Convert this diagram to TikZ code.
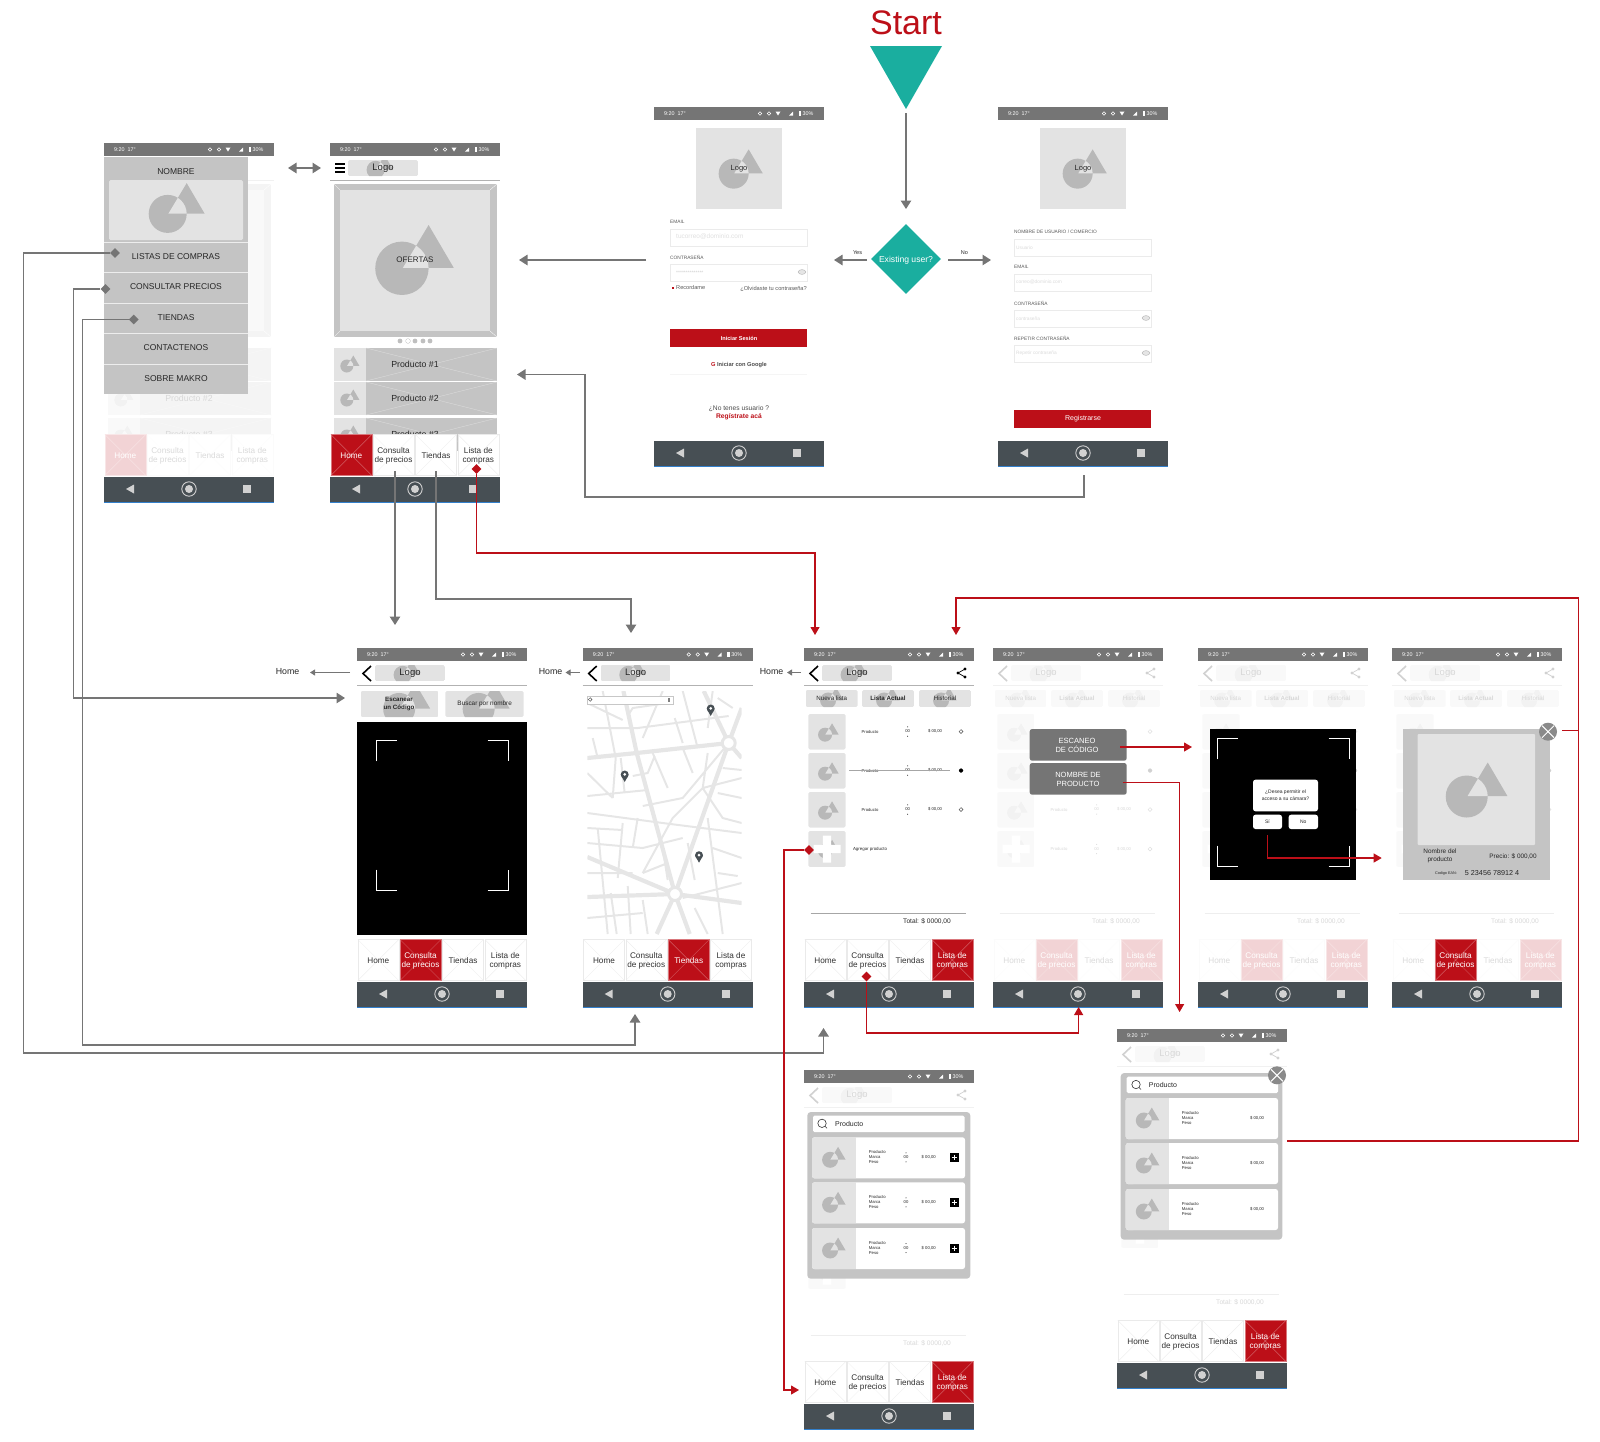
\documentclass[tikz,border=0pt]{standalone}
\usepackage{fontspec}
\setmainfont{Liberation Sans}
\usetikzlibrary{arrows.meta, shapes.geometric}

\definecolor{brandred}{HTML}{BC0F18}
\definecolor{startteal}{HTML}{1AAE9F}
\definecolor{barGray}{HTML}{757575}
\definecolor{navGray}{HTML}{474F54}
\definecolor{panelGray}{HTML}{C4C4C4}
\definecolor{imgGray}{HTML}{E3E3E3}
\definecolor{markGray}{HTML}{B8B8B8}
\definecolor{roadGray}{HTML}{E6E6E6}
\definecolor{tabEdgeOn}{HTML}{D9777C}
\definecolor{tabEdgeOff}{HTML}{EAEAEA}
\definecolor{tabInkOff}{HTML}{333333}

\newcommand{\fs}[2]{\fontsize{#1}{#2}\selectfont}

\tikzset{
	txt/.style={inner sep=0pt, align=center, text=black!85},
	link/.style={draw=barGray, line width=1.3pt, -{Triangle[length=8.5pt,width=10.5pt]}},
	redlink/.style={draw=brandred, line width=1.1pt, -{Triangle[length=8pt,width=9pt]}},
	redplain/.style={draw=brandred, line width=1.1pt},
	hub/.style={diamond, fill=barGray, minimum size=10pt, inner sep=0pt},
	redhub/.style={hub, fill=brandred},
	tabbox/.style={line width=.3pt},
	field/.style={draw=black!8, fill=white, line width=.5pt},
	scanline/.style={draw=white, line width=.8pt},
	road/.style={draw=roadGray, line width=2pt},
	bigroad/.style={draw=roadGray, line width=4.2pt},
	decision/.style={diamond, fill=startteal, minimum size=70pt, inner sep=0pt},
}

% placeholder picture: circle and triangle
\newcommand{\placemark}[3]{%
	\begin{scope}[shift={(#1,#2)}, scale=#3]
		\fill[markGray] (-.49,.31) circle (1);
		\fill[markGray] (.51,-1.31) -- (-.45,.29) -- (1.45,.29) -- cycle;
		\begin{scope}
			\clip (-.49,.31) circle (1);
			\fill[imgGray] (.51,-1.31) -- (-.45,.29) -- (1.45,.29) -- cycle;
		\end{scope}
	\end{scope}}

\newcommand{\chip}[7]{%
	\begin{scope}
		\clip[rounded corners=1.5pt] (#1,#2) rectangle (#3,#4);
		\fill[imgGray] (#1,#2) rectangle (#3,#4);
		\placemark{#5}{#6}{#7}
	\end{scope}}

% bottom tabs
\newcommand{\tabcell}[4]{%
	\ifnum#4=1 \def\tabfill{brandred}\def\tabedge{tabEdgeOn}\def\tabink{white}%
	\else \def\tabfill{white}\def\tabedge{tabEdgeOff}\def\tabink{tabInkOff}\fi
	\draw[tabbox, fill=\tabfill, draw=\tabedge] (#2,291.5) rectangle ++(41,41);
	\draw[tabbox, draw=\tabedge] (#2,291.5) -- ++(41,41) ++(-41,0) -- ++(41,-41);
	\node[txt, font=\fs{8.2}{9.2}, text=\tabink] (tab#1) at (#2+20.5,312.7) {#3};}

\newcommand{\tabrow}[2]{%
	\foreach \i/\x/\t in {1/.8/Home, 2/43/{Consulta\\de precios}, 3/85.5/Tiendas, 4/127.8/{Lista de\\compras}}{%
		\ifnum\i=#1 \def\tabon{1}\else\ifnum\i=#2 \def\tabon{1}\else\def\tabon{0}\fi\fi
		\tabcell{\i}{\x}{\t}{\tabon}
	}}

% status bar and navigation bar
\newcommand{\phonebars}{%
	\fill[barGray] (0,0) rectangle (170,13);
	\node[txt, text=white, font=\fs{5.4}{6}, anchor=west] (clock) at (10,6.5) {9:20\ \ 17°};
	\draw[white, line width=.5pt] (106,6.5) circle (1.7) (115,6.5) circle (1.7);
	\fill[white] (121.5,4.5) -- (126.5,4.5) -- (124,8.5) -- cycle;
	\fill[white] (135,8.5) -- (139,8.5) -- (139,4.5) -- cycle;
	\fill[white] (144.5,4) rectangle (147,9);
	\node[txt, text=white, font=\fs{5.4}{6}] (battery) at (154,6.5) {30\%};
	\fill[navGray] (0,334) rectangle (170,359);
	\draw[blue!50!cyan!60!gray, line width=.6pt] (0,358.8) -- (170,358.8);
	\fill[black!18] (22,346) -- (30,341.5) -- (30,350.5) -- cycle;
	\draw[black!18, line width=.9pt] (85,346) circle (7.2);
	\fill[black!18] (85,346) circle (4);
	\fill[black!18] (139,342) rectangle (147,350);}

% header with the logo chip
\newcommand{\phonehead}{%
	\chip{18}{17}{88}{33}{50}{24}{9}
	\node[txt, font=\fs{9.5}{10}] (logo) at (53,25) {Logo};
	\draw[black!30, line width=.6pt] (0,37.3) -- (170,37.3);}

\newcommand{\backmark}{\draw[black, line width=1.6pt] (14,18) -- (6,25.5) -- (14,33);}

\newcommand{\sharemark}{%
	\draw[black, line width=.7pt] (161,21) -- (154,25) -- (161,29);
	\fill[black] (161,21) circle (1.6) (154,25) circle (1.6) (161,29) circle (1.6);}

\newcommand{\closemark}[2]{%
	\fill[barGray!85] (#1,#2) circle (9);
	\draw[white, line width=1pt] (#1-6,#2-6) -- (#1+6,#2+6) (#1-6,#2+6) -- (#1+6,#2-6);}

\newcommand{\scancorners}[5]{%
	\draw[scanline] (#1,#2+#5) -- (#1,#2) -- (#1+#5,#2);
	\draw[scanline] (#3-#5,#2) -- (#3,#2) -- (#3,#2+#5);
	\draw[scanline] (#1,#4-#5) -- (#1,#4) -- (#1+#5,#4);
	\draw[scanline] (#3-#5,#4) -- (#3,#4) -- (#3,#4-#5);}

% home screen contents, labels from product #1 on
\newcommand{\homescreen}[1]{%
	\chip{18}{17}{88}{33}{50}{24}{9}
	\draw[black!30, line width=.6pt] (0,37.3) -- (170,37.3);
	\draw[black, line width=1.1pt] (5,21) -- (15,21) (5,25) -- (15,25) (5,29) -- (15,29);
	\fill[panelGray] (4,41) rectangle (167,194);
	\fill[imgGray] (10,47) rectangle (160,188);
	\draw[white, line width=.3pt] (4,41) -- (10,47) (167,41) -- (160,47) (4,194) -- (10,188) (167,194) -- (160,188);
	\placemark{85}{117}{26.7}
	\ifnum#1=1
		\node[txt, font=\fs{9.5}{10}] (logo) at (53,25) {Logo};
		\node[txt, font=\fs{8}{9}] (ofertas) at (85,117) {OFERTAS};
	\fi
	\foreach \x in {70,85,93,100}{\fill[black!25] (\x,198) circle (2.4);}
	\draw[black!25, line width=.3pt] (78,198) circle (2.4);
	\foreach \y/\n in {205/1,239/2,275/3}{%
		\fill[panelGray] (4,\y) rectangle (167,\y+33);
		\draw[black!12, line width=.3pt] (36,\y) -- (167,\y+33) (36,\y+33) -- (167,\y);
		\fill[imgGray] (4,\y) rectangle (36,\y+33);
		\placemark{20}{\y+16}{6.5}
		\ifnum\n<#1\else
			\node[txt, font=\fs{8.8}{9}] (prod\n) at (85,\y+16) {Producto \#\n};
		\fi
	}}

% shopping list screen, in parts
\newcommand{\listtop}{%
	\phonehead
	\backmark
	\sharemark
	\chip{1.7}{42}{53.7}{59}{28}{50}{8}
	\chip{58}{42}{110}{59}{84}{50}{8}
	\chip{115}{42}{167}{59}{141}{50}{8}
	\node[txt, font=\fs{6.2}{7}] (newlist) at (27.7,50.5) {Nueva lista};
	\node[txt, font=\bfseries\fs{6.2}{7}] (curlist) at (84,50.5) {Lista Actual};
	\node[txt, font=\fs{6.2}{7}] (history) at (141,50.5) {Historial};}

\newcommand{\listtopplain}{%
	\phonehead
	\backmark
	\sharemark}

\newcommand{\listthumbs}{%
	\foreach \y in {66,105,144}{%
		\chip{4.3}{\y}{41.7}{\y+35.5}{24.5}{\y+18.5}{7}
		\draw[black!70, line width=.5pt] (157,\y+17.5) circle (1.9);
	}
	\fill[black] (157,122.5) circle (2);
	\chip{4.3}{183}{41.7}{219}{24.5}{201}{7}
	\fill[white] (18.8,187.5) rectangle (27.2,214.5) (9.5,196.8) rectangle (36.5,205.2);}

\newcommand{\itemrow}[2]{%
	\node[txt, font=\fs{4.2}{5}] (item#2) at (66,#1) {Producto};
	\node[txt, font=\fs{4.2}{5}] (qty#2) at (103.7,#1) {00};
	\fill[black] (103.7,#1-4.7) circle (.5) (103.7,#1+4.7) circle (.5);
	\node[txt, font=\fs{4.2}{5}] (price#2) at (131,#1) {\$ 00,00};}

\newcommand{\listrows}{%
	\itemrow{83.5}{1}
	\itemrow{122.5}{2}
	\itemrow{161.5}{3}
	\draw[black!35, line width=.5pt] (45,122.7) -- (146,122.7);
	\node[txt, font=\fs{4.4}{5}] (additem) at (66,201) {Agregar producto};}

\newcommand{\listtail}{%
	\draw[black!35, line width=.7pt] (6.7,265) -- (161.7,265);
	\node[txt, font=\fs{6.6}{8}] (total) at (123,273) {Total: \$ 0000,00};}

\newcommand{\fadescreen}{\fill[white, opacity=.82] (0,13) rectangle (170,334);}

% search popup card
\newcommand{\cardrow}[4]{%
	\fill[white, rounded corners=2.5pt] (#2,#1) rectangle (#3,#1+41);
	\fill[imgGray, rounded corners=2.5pt] (#2,#1) rectangle (#2+10,#1+41);
	\fill[imgGray] (#2+4,#1) rectangle (#2+43.5,#1+41);
	\placemark{#2+22}{#1+20}{8}
	\node[txt, font=\fs{4.2}{5}, align=left, anchor=west] (card#4) at (64.7,#1+20) {Producto\\Marca\\Peso};}

\begin{document}
\begin{tikzpicture}[x=1pt, y=-1pt]
	\useasboundingbox (0,0) rectangle (1600,1441);

	% Start
	\node[txt, text=brandred, font=\fs{34}{36}] (start) at (906,23) {Start};
	\fill[startteal] (870,46) -- (942,46) -- (906,109) -- cycle;
	\coordinate (startTip) at (906,113);
	\coordinate (decisionTop) at (906,209);
	\node[decision] (existing) at (906,259) {};
	\node[txt, text=white, font=\fs{8.6}{10}] (existingText) at (906,260) {Existing user?};
	\coordinate (yesFrom) at (867,260);
	\coordinate (yesTo) at (834,260);
	\coordinate (noFrom) at (948,260);
	\coordinate (noTo) at (991,260);
	\node[txt, font=\fs{5.5}{6}] (yes) at (857.5,253) {Yes};
	\node[txt, font=\fs{5.5}{6}] (no) at (964.5,253) {No};

	% Login
	\begin{scope}[shift={(654,107)}, name prefix=login-]
		\fill[imgGray] (42,20.5) rectangle (128,102);
		\placemark{87}{62}{15}
		\node[txt, font=\fs{7.5}{8}] (logo) at (85,62) {Logo};
		\node[txt, font=\fs{4.8}{5}, anchor=west, text=black!65] (mailLbl) at (16,114.5) {EMAIL};
		\draw[field] (16,122) rectangle (153,139);
		\node[txt, font=\fs{6.5}{7}, anchor=west, text=black!12] (mailHint) at (22,130) {tucorreo@dominio.com};
		\node[txt, font=\fs{4.8}{5}, anchor=west, text=black!65] (passLbl) at (16,150.5) {CONTRASEÑA};
		\draw[field] (16,157) rectangle (153,174);
		\node[txt, font=\fs{5}{5}, anchor=west, text=black!20] (passHint) at (22,165.5) {**************};
		\draw[black!30, fill=black!10, line width=.4pt] (148,165) ellipse (3.8 and 2.4);
		\fill[brandred] (17.5,179.5) rectangle (20,182);
		\node[txt, font=\fs{5.6}{6}, anchor=west, text=black!65] (remember) at (22,180.5) {Recordame};
		\node[txt, font=\fs{5.7}{6}, anchor=east, text=black!65] (forgot) at (153,181.5) {¿Olvidaste tu contraseña?};
		\fill[brandred] (16,222) rectangle (153,240);
		\node[txt, font=\bfseries\fs{5.6}{6}, text=white] (signin) at (85,231.5) {Iniciar Sesión};
		\fill[black!4] (16,249) rectangle (153,267.5);
		\fill[white] (16,249) rectangle (153,266.5);
		\node[txt, font=\bfseries\fs{5.7}{6}, text=black!70] (google) at (85,258.5) {{\color{brandred}G} Iniciar con Google};
		\node[txt, font=\fs{6.7}{8.2}, text=black!70] (signup) at (85,305.5) {¿No tenes usuario ?\\{\bfseries\color{brandred}Regístrate acá}};
		\phonebars
	\end{scope}

	% Register
	\begin{scope}[shift={(998,107)}, name prefix=register-]
		\fill[imgGray] (42,20.5) rectangle (128,102);
		\placemark{87}{62}{15}
		\node[txt, font=\fs{7.5}{8}] (logo) at (85,62) {Logo};
		\foreach \y/\n/\t/\h in {125/1/{NOMBRE DE USUARIO / COMERCIO}/Usuario, 160/2/EMAIL/correo@dominio.com, 196/3/CONTRASEÑA/contraseña, 231/4/REPETIR CONTRASEÑA/Repetir contraseña}{%
			\node[txt, font=\fs{4.8}{5}, anchor=west, text=black!65] (lbl\n) at (16,\y) {\t};
			\draw[field] (16,\y+7) rectangle (153,\y+24);
			\node[txt, font=\fs{4.8}{5}, anchor=west, text=black!14] (hint\n) at (18,\y+15.5) {\h};
		}
		\foreach \y in {211,246}{\draw[black!30, fill=black!10, line width=.4pt] (148,\y) ellipse (3.8 and 2.4);}
		\fill[brandred] (16,303) rectangle (153,320.5);
		\node[txt, font=\fs{7}{8}, text=white] (register) at (85,312) {Registrarse};
		\phonebars
	\end{scope}

	% Side menu over the home screen
	\begin{scope}[shift={(104,143)}, name prefix=menu-]
		\homescreen{2}
		\tabrow{1}{0}
		\fadescreen
		\fill[panelGray] (0,14) rectangle (144,251);
		\node[txt, font=\fs{8.5}{9}] (name) at (72,29) {NOMBRE};
		\fill[imgGray, rounded corners=1.5pt] (5,37) rectangle (139,97);
		\placemark{73}{65}{19}
		\foreach \y in {99,129,160,190,221}{\draw[white!70!panelGray, line width=.8pt] (0,\y) -- (144,\y);}
		\foreach \y/\n/\t in {114/1/LISTAS DE COMPRAS, 144/2/CONSULTAR PRECIOS, 175/3/TIENDAS, 205/4/CONTACTENOS, 236/5/SOBRE MAKRO}{%
			\node[txt, font=\fs{8.5}{9}] (row\n) at (72,\y) {\t};
		}
		\phonebars
	\end{scope}

	% Home
	\begin{scope}[shift={(330,143)}, name prefix=home-]
		\homescreen{1}
		\tabrow{1}{0}
		\phonebars
	\end{scope}

	% Scan a code
	\begin{scope}[shift={(357,648)}, name prefix=scan-]
		\phonehead
		\backmark
		\chip{3.7}{43}{81.7}{69}{50}{56}{16}
		\chip{88.3}{43}{166.7}{69}{129.5}{56}{16}
		\node[txt, font=\bfseries\fs{6.2}{8}] (bycode) at (42,56) {Escanear\\un Código};
		\node[txt, font=\fs{6.4}{8}] (byname) at (127.7,56) {Buscar por nombre};
		\fill[black] (0,74) rectangle (170,287);
		\scancorners{19}{92.3}{151.7}{242.7}{21}
		\tabrow{2}{0}
		\phonebars
	\end{scope}

	% Stores map
	\begin{scope}[shift={(582.7,648)}, name prefix=map-]
		\phonehead
		\backmark
		\begin{scope}
			\clip (4.6,43) rectangle (159,286);
			\draw[road] (20,43)--(33,110)--(30,150) (4.6,80)--(55,80)--(146,68) (80,43)--(60,90) (100,43)--(115,100)
				(146,95)--(100,150)--(60,158) (4.6,148)--(65,142) (4.6,165)--(80,175)--(159,185)
				(159,130)--(120,140)--(90,170)--(60,225) (4.6,195)--(60,200)--(100,190)
				(125,105)--(120,140)--(140,170)--(159,175) (15,180)--(25,286) (40,175)--(35,230) (4.6,225)--(50,225)
				(130,200)--(159,210) (125,170)--(140,286) (100,250)--(159,235) (4.6,270)--(60,265) (60,252)--(65,286)
				(112,260)--(125,286) (4.6,55)--(40,72) (130,43)--(125,80) (4.6,125)--(30,150) (70,105)--(85,140) (159,150)--(135,145)
				(45,68)--(50,60)--(85,55) (10,90)--(15,110) (38,110)--(42,145) (72,108)--(65,125)--(50,128) (100,100)--(110,125)
				(4.6,180)--(40,182) (55,170)--(50,200) (80,200)--(85,232) (60,225)--(85,215) (105,195)--(112,232) (28,245)--(34,286)
				(45,238)--(48,286) (135,225)--(155,228) (140,120)--(159,122) (150,60)--(135,50) (92,70)--(100,95);
			\draw[bigroad] (40.7,43) -- (54,105) -- (92.3,246) -- (107,286);
			\draw[bigroad] (4.6,110) -- (54,105) -- (146,95);
			\draw[bigroad] (146,95) -- (92.3,246) -- (74,286);
			\draw[bigroad] (4.6,209) -- (92.3,246);
			\draw[bigroad] (4.6,249) -- (92.3,246) -- (159,255);
			\draw[bigroad] (121,43) -- (146,95) -- (159,60);
			\draw[bigroad] (159,110) -- (146,95);
			\draw[roadGray, fill=white, line width=3pt] (146,95) circle (6.5) (92.3,246) circle (6.5);
		\end{scope}
		\draw[black!22, fill=white, line width=.4pt] (4.6,48) rectangle (90.3,56);
		\draw[black!70, line width=.4pt] (7.5,51.5) circle (1.8);
		\fill[black!50] (85.5,50) rectangle (87,54);
		\foreach \x/\y in {128/62, 42/128, 116.3/208.7}{%
			\fill[navGray] (\x,\y+6) -- (\x-3.6,\y-.5) -- (\x+3.6,\y-.5) -- cycle;
			\fill[navGray] (\x,\y-1.5) circle (4);
			\fill[white] (\x,\y-1.7) circle (1.5);
		}
		\tabrow{3}{0}
		\phonebars
	\end{scope}

	% Current list
	\begin{scope}[shift={(804,648)}, name prefix=list-]
		\listtop
		\listthumbs
		\listrows
		\listtail
		\tabrow{4}{0}
		\phonebars
	\end{scope}

	% Add product choice
	\begin{scope}[shift={(993,648)}, name prefix=choice-]
		\listtop
		\listthumbs
		\itemrow{161.5}{3}
		\itemrow{201}{4}
		\draw[black!70, line width=.5pt] (157,201) circle (1.9);
		\listtail
		\tabrow{2}{4}
		\fadescreen
		\fill[barGray, rounded corners=2.5pt] (36.7,81) rectangle (133.7,112.7);
		\fill[barGray, rounded corners=2.5pt] (36.7,115) rectangle (133.7,146.7);
		\node[txt, text=white, font=\fs{7.5}{9}] (scanOpt) at (84,97) {ESCANEO\\DE CÓDIGO};
		\node[txt, text=white, font=\fs{7.5}{9}] (nameOpt) at (85,131) {NOMBRE DE\\PRODUCTO};
		\phonebars
	\end{scope}

	% Camera permission
	\begin{scope}[shift={(1198,648)}, name prefix=camera-]
		\listtop
		\listthumbs
		\listtail
		\tabrow{2}{4}
		\fadescreen
		\fill[black] (11.7,81.3) rectangle (158,231.7);
		\scancorners{19}{90.3}{151.5}{218.7}{21}
		\fill[white, rounded corners=2.5pt] (55,131.7) rectangle (120,163.3);
		\node[txt, font=\fs{5}{7}] (askText) at (87.5,147.5) {¿Desea permitir el\\acceso a su cámara?};
		\fill[white, rounded corners=2.5pt] (55,166.7) rectangle (84,181);
		\fill[white, rounded corners=2.5pt] (90.6,166.7) rectangle (120,181);
		\node[txt, font=\fs{5}{6}] (askYes) at (69.5,173.8) {Sí};
		\node[txt, font=\fs{5}{6}] (askNo) at (105.3,173.8) {No};
		\phonebars
	\end{scope}

	% Scanned product
	\begin{scope}[shift={(1392,648)}, name prefix=scanned-]
		\listtop
		\listthumbs
		\listtail
		\tabrow{2}{4}
		\fadescreen
		\tabcell{2}{43}{Consulta\\de precios}{1}
		\fill[panelGray] (11.3,81) rectangle (158,232);
		\fill[imgGray, rounded corners=1pt] (25.6,86) rectangle (143,197);
		\placemark{85}{142}{21}
		\node[txt, font=\fs{6.4}{8}] (prodName) at (48,208.3) {Nombre del\\producto};
		\node[txt, font=\fs{6.4}{8}] (prodPrice) at (121,208.3) {Precio: \$ 000,00};
		\node[txt, font=\fs{3.8}{5}] (eanLbl) at (54,226) {Codigo EAN:};
		\node[txt, font=\fs{7.2}{8}] (eanNum) at (100,225.5) {5 23456 78912 4};
		\closemark{156}{83.7}
		\phonebars
	\end{scope}

	% Search product, add to list
	\begin{scope}[shift={(804,1070)}, name prefix=search-]
		\listtopplain
		\listthumbs
		\listtail
		\tabrow{4}{0}
		\fill[white, opacity=.82] (0,13) rectangle (170,291);
		\fill[panelGray, rounded corners=3.5pt] (3.3,42) rectangle (166.3,208.7);
		\fill[white, rounded corners=1.5pt] (9,45.7) rectangle (160.7,62);
		\draw[black!80, line width=.6pt] (18,53.3) circle (4.2) (21,56.3) -- (23,58.3);
		\node[txt, font=\fs{7}{8}, anchor=west] (searchText) at (31,53.7) {Producto};
		\foreach \y/\n in {67.3/1,112.3/2,158/3}{%
			\cardrow{\y}{8}{161}{\n}
			\node[txt, font=\fs{4.2}{5}] (qty\n) at (102,\y+20) {00};
			\fill[black] (102,\y+15.5) circle (.5) (102,\y+24.5) circle (.5);
			\node[txt, font=\fs{4.2}{5}] (price\n) at (124.7,\y+20) {\$ 00,00};
			\fill[black] (145.5,\y+15.5) rectangle (155,\y+25);
			\draw[white, line width=.8pt] (147.5,\y+20.2) -- (153,\y+20.2) (150.2,\y+17.5) -- (150.2,\y+23);
		}
		\phonebars
	\end{scope}

	% Search product, from the list
	\begin{scope}[shift={(1117,1029)}, name prefix=pick-]
		\listtopplain
		\listthumbs
		\listtail
		\tabrow{4}{0}
		\fill[white, opacity=.82] (0,13) rectangle (170,291);
		\fill[panelGray, rounded corners=3.5pt] (3.7,44) rectangle (165.3,210.7);
		\fill[white, rounded corners=1.5pt] (9.7,47.7) rectangle (161,64);
		\draw[black!80, line width=.6pt] (19,55.5) circle (4.2) (22,58.5) -- (24,60.5);
		\node[txt, font=\fs{7}{8}, anchor=west] (searchText) at (31.7,56) {Producto};
		\foreach \y/\n in {69/1,114/2,160/3}{%
			\cardrow{\y}{8.7}{161}{\n}
			\node[txt, font=\fs{4.2}{5}] (price\n) at (140,\y+20) {\$ 00,00};
		}
		\closemark{160}{46.3}
		\phonebars
	\end{scope}

	% Loose labels and connector ends
	\node[txt, font=\fs{8.8}{9}] (homeA) at (287.5,671.5) {Home};
	\node[txt, font=\fs{8.8}{9}] (homeB) at (550.5,671.5) {Home};
	\node[txt, font=\fs{8.8}{9}] (homeC) at (771.5,671.5) {Home};
	\node[hub] (hubLists) at (115,253) {};
	\node[hub] (hubPrices) at (105.5,289) {};
	\node[hub] (hubStores) at (133.7,319.5) {};
	\node[redhub] (hubTabList) at (476.5,469) {};
	\node[redhub] (hubTabPrice) at (866.5,976.5) {};
	\node[redhub] (hubAdd) at (809,850) {};
	\coordinate (menuEast) at (288,168);
	\coordinate (homeWest) at (321,168);
	\coordinate (loginWest) at (646,260);
	\coordinate (homeEast) at (519,260);
	\coordinate (registerBottom) at (1084,475);
	\coordinate (homeProduct) at (517,374.5);
	\coordinate (tabPrices) at (395,471);
	\coordinate (scanTop) at (395,625);
	\coordinate (tabStores) at (436,471);
	\coordinate (mapTop) at (631,633);
	\coordinate (listTop) at (815,635);
	\coordinate (listLower) at (823.5,1028);
	\coordinate (scanButtons) at (345,698);
	\coordinate (mapLower) at (635,1014);
	\coordinate (choiceLower) at (1078.6,1007);
	\coordinate (searchTab) at (799,1390);
	\coordinate (scanOptEnd) at (1120,747);
	\coordinate (cameraWest) at (1192,747);
	\coordinate (nameOptEnd) at (1122.5,782.7);
	\coordinate (pickTop) at (1179.6,1012);
	\coordinate (askYesEnd) at (1267.4,835);
	\coordinate (scannedWest) at (1381.7,858);
	\coordinate (closeScanned) at (1562,730.6);
	\coordinate (closePick) at (1287,1141);
	\coordinate (listTopRight) at (956,635);
	\coordinate (scanBack) at (350,672.5);
	\coordinate (scanBackEnd) at (310,672.5);
	\coordinate (mapBack) at (580,672.5);
	\coordinate (mapBackEnd) at (565.5,672.5);
	\coordinate (listBack) at (801,672.5);
	\coordinate (listBackEnd) at (787,672.5);

	% Connectors
	\draw[link] (startTip) -- (decisionTop);
	\draw[link] (yesFrom) -- (yesTo);
	\draw[link] (noFrom) -- (noTo);
	\draw[link] (loginWest) -- (homeEast);
	\draw[link, {Triangle[length=8.5pt,width=10.5pt]}-{Triangle[length=8.5pt,width=10.5pt]}] (menuEast) -- (homeWest);
	\draw[link] (registerBottom) |- (585,497) |- (homeProduct);
	\draw[link] (tabPrices) -- (scanTop);
	\draw[link] (tabStores) |- (631,599) -- (mapTop);
	\draw[link] (hubLists) -| (23.5,1053) -| (listLower);
	\draw[link] (hubPrices) -| (73.5,698) -- (scanButtons);
	\draw[link] (hubStores) -| (82.7,1045) -| (mapLower);
	\draw[link, line width=.9pt, -{Triangle[length=5pt,width=6pt]}] (scanBack) -- (scanBackEnd);
	\draw[link, line width=.9pt, -{Triangle[length=5pt,width=6pt]}] (mapBack) -- (mapBackEnd);
	\draw[link, line width=.9pt, -{Triangle[length=5pt,width=6pt]}] (listBack) -- (listBackEnd);
	\draw[redlink] (hubTabList) |- (815,553) -- (listTop);
	\draw[redlink] (hubTabPrice) |- (1078.6,1033) -- (choiceLower);
	\draw[redlink] (hubAdd) -| (784,1390) -- (searchTab);
	\draw[redlink] (scanOptEnd) -- (cameraWest);
	\draw[redlink] (nameOptEnd) -| (1179.6,900) -- (pickTop);
	\draw[redlink] (askYesEnd) |- (scannedWest);
	\draw[redplain] (closeScanned) -- (1578.6,730.6);
	\draw[redlink] (closePick) -| (1578.6,598) -| (listTopRight);
\end{tikzpicture}
\end{document}
